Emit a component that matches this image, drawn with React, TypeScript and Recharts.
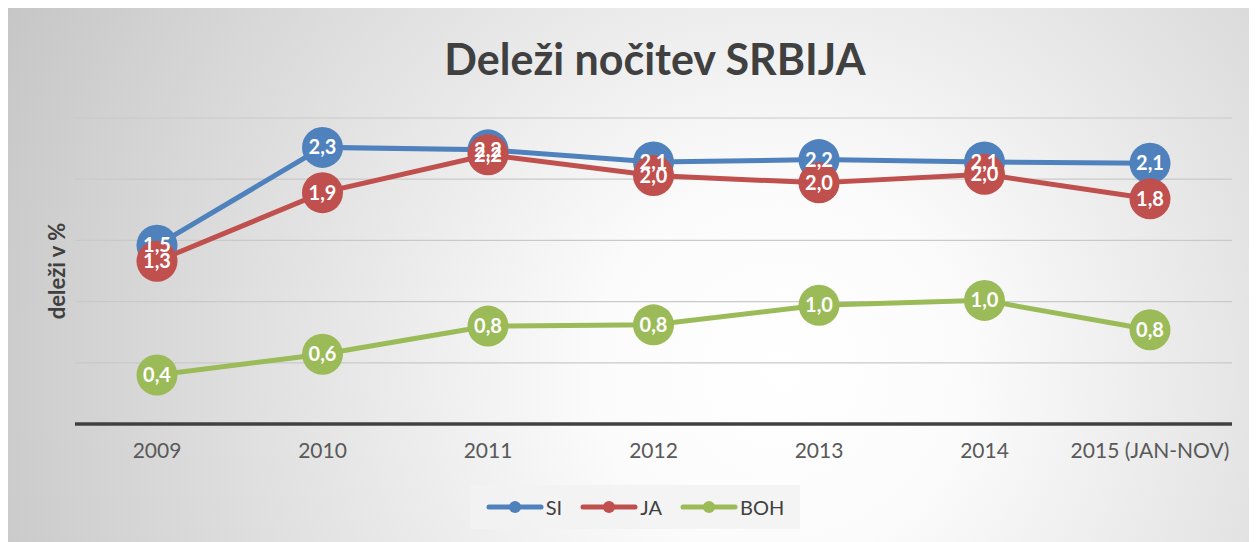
import { LineChart, Line, XAxis, YAxis, CartesianGrid, LabelList } from "recharts";

const years = ["2009", "2010", "2011", "2012", "2013", "2014", "2015 (JAN-NOV)"];
const si = [1.46, 2.26, 2.24, 2.14, 2.16, 2.14, 2.13];
const ja = [1.33, 1.89, 2.2, 2.03, 1.97, 2.04, 1.84];
const boh = [0.4, 0.57, 0.8, 0.81, 0.97, 1.01, 0.77];
const yTicks = [0, 0.5, 1, 1.5, 2, 2.5];

const SERIES = [
  { key: "SI", color: "#4f81bd" },
  { key: "JA", color: "#c0504d" },
  { key: "BOH", color: "#9bbb59" },
];

const data = years.map((year, i) => ({ year, SI: si[i], JA: ja[i], BOH: boh[i] }));

const FONT = "Lato, 'Open Sans', sans-serif";

const fmt = (v: any) => Number(v).toFixed(1).replace(".", ",");

export default function App() {
  return (
    <div
      style={{
        position: "relative",
        width: 1247,
        height: 534,
        fontFamily: FONT,
        background:
          "radial-gradient(circle farthest-corner at 62% 68%, #ffffff 0%, #fbfbfb 22%, #c6c6c6 100%)",
      }}
    >
      <div
        style={{
          position: "absolute",
          left: 647,
          top: 50,
          transform: "translate(-50%, -50%)",
          fontSize: 43,
          fontWeight: 700,
          color: "#404040",
          whiteSpace: "nowrap",
        }}
      >
        Deleži nočitev SRBIJA
      </div>
      <div
        style={{
          position: "absolute",
          left: 48,
          top: 263,
          transform: "translate(-50%, -50%) rotate(-90deg)",
          fontSize: 22,
          fontWeight: 700,
          color: "#404040",
          whiteSpace: "nowrap",
        }}
      >
        deleži v %
      </div>
      <div style={{ position: "absolute", left: 0, top: 0 }}>
        <LineChart
          width={1247}
          height={534}
          data={data}
          margin={{ top: 110, right: 23, bottom: 78, left: 67 }}
        >
          <CartesianGrid vertical={false} stroke="#c9c9c9" strokeWidth={1.2} />
          <YAxis hide domain={[0, 2.5]} ticks={yTicks} />
          <XAxis
            dataKey="year"
            axisLine={{ stroke: "#404040", strokeWidth: 3.5 }}
            tickLine={false}
            tickMargin={13}
            height={40}
            interval={0}
            padding={{ left: 82, right: 82 }}
            tick={{ fill: "#595959", fontSize: 21, fontFamily: FONT }}
          />
          {SERIES.map((s) => (
            <Line
              key={s.key}
              dataKey={s.key}
              stroke={s.color}
              strokeWidth={5}
              type="linear"
              isAnimationActive={false}
              dot={{ r: 20.5, fill: s.color, stroke: s.color, strokeWidth: 0 }}
              activeDot={false}
            >
              <LabelList
                dataKey={s.key}
                position="center"
                formatter={fmt}
                fill="#ffffff"
                fontSize={20}
                fontWeight={700}
                fontFamily={FONT}
              />
            </Line>
          ))}
        </LineChart>
      </div>
      <div
        style={{
          position: "absolute",
          left: 462,
          top: 477,
          width: 330,
          height: 44,
          background: "rgba(242,242,242,0.85)",
          display: "flex",
          alignItems: "center",
          justifyContent: "center",
          gap: 18,
          fontSize: 20,
          color: "#404040",
        }}
      >
        {SERIES.map((s) => (
          <div key={s.key} style={{ display: "flex", alignItems: "center" }}>
            <svg width={58} height={14}>
              <line x1={3} y1={7} x2={55} y2={7} stroke={s.color} strokeWidth={5} strokeLinecap="round" />
              <circle cx={29} cy={7} r={6} fill={s.color} />
            </svg>
            <span style={{ marginLeft: 2 }}>{s.key}</span>
          </div>
        ))}
      </div>
      <div
        style={{
          position: "absolute",
          left: -1,
          top: -1,
          width: 1247,
          height: 536,
          border: "1px solid #d9d9d9",
          pointerEvents: "none",
        }}
      />
    </div>
  );
}
